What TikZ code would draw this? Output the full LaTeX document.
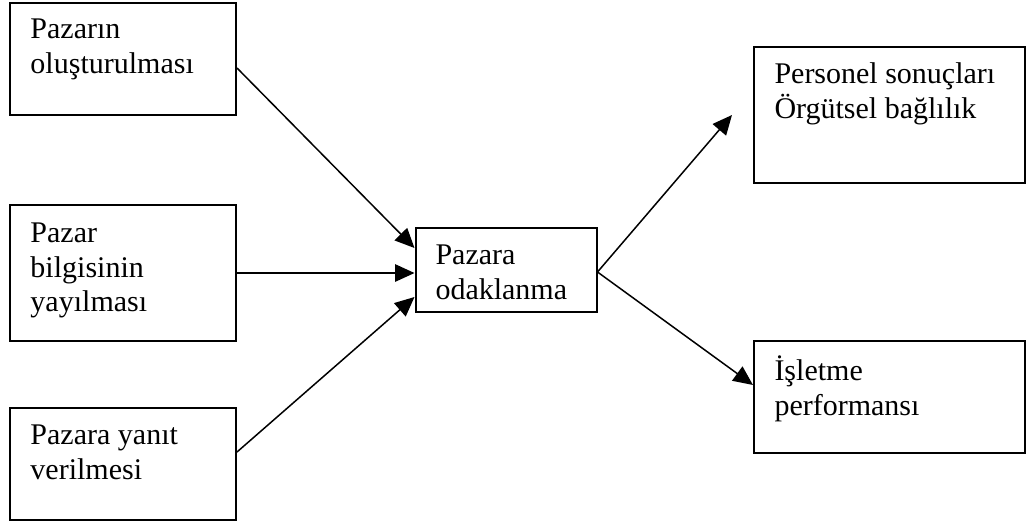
\documentclass[tikz,border=0pt]{standalone}
\usepackage{fontspec}
\setmainfont{Liberation Serif}
\usetikzlibrary{arrows.meta}
\newcommand\firstline{\rule{0pt}{12pt}}
\begin{document}
\begin{tikzpicture}[x=0.4pt,y=-0.4pt,
  box/.style={draw, line width=0.8pt, inner sep=0pt, fill=white},
  txt/.style={anchor=north west, inner sep=0pt, align=left,
              font=\fontsize{12}{13.8}\selectfont},
  link/.style={line width=0.6pt, -{Triangle[length=7.8pt,width=7pt]}}]
\useasboundingbox (0,0) rectangle (1034,522);

% boxes
\node[box, minimum width=90.4pt,  minimum height=44.8pt] (b1) at (123,59) {};
\node[box, minimum width=90.4pt,  minimum height=54.4pt] (b2) at (123,273) {};
\node[box, minimum width=90.4pt,  minimum height=44.8pt] (b3) at (123,464) {};
\node[box, minimum width=72.4pt,  minimum height=33.6pt] (b4) at (506,270) {};
\node[box, minimum width=108.4pt, minimum height=54.4pt] (b5) at (889.5,115) {};
\node[box, minimum width=108.4pt, minimum height=44.8pt] (b6) at (889.5,397) {};

% labels
\node[txt] (t1) at (30,8)   {\firstline Pazarın\\oluşturulması};
\node[txt] (t2) at (30,212) {\firstline Pazar\\bilgisinin\\yayılması};
\node[txt] (t3) at (30,414) {\firstline Pazara yanıt\\verilmesi};
\node[txt] (t4) at (435,234) {\firstline Pazara\\odaklanma};
\node[txt] (t5) at (774,53)  {\firstline Personel sonuçları\\Örgütsel bağlılık};
\node[txt] (t6) at (774,350) {\firstline İşletme\\performansı};

% free end of the upper outgoing arrow
\coordinate (up) at (732,115);

% connectors
\draw[link] ([yshift=-3.6pt]b1.east) -- ([yshift=8.8pt]b4.west);
\draw[link] (b2.east) -- (b2.east -| b4.west);
\draw[link] ([yshift=4.8pt]b3.east) -- ([yshift=-10.8pt]b4.west);
\draw[link] ([yshift=-0.8pt]b4.east) -- (up);
\draw[link] ([yshift=-0.8pt]b4.east) -- ([yshift=4.8pt]b6.west);
\end{tikzpicture}
\end{document}
